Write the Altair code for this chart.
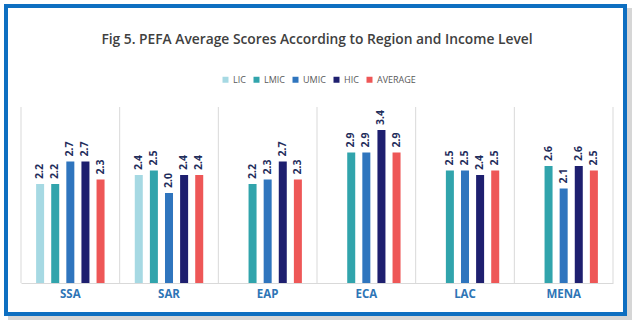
import altair as alt
import pandas as pd

regions = ["SSA", "SAR", "EAP", "ECA", "LAC", "MENA"]
levels = ["LIC", "LMIC", "UMIC", "HIC", "AVERAGE"]
lic = [2.2, 2.4, None, None, None, None]
lmic = [2.2, 2.5, 2.2, 2.9, 2.5, 2.6]
umic = [2.7, 2.0, 2.3, 2.9, 2.5, 2.1]
hic = [2.7, 2.4, 2.7, 3.4, 2.4, 2.6]
average = [2.3, 2.4, 2.3, 2.9, 2.5, 2.5]
colors = ["#A6D9E3", "#31A4AC", "#2F75BE", "#1E1F6F", "#EE5757"]
title_text = "Fig 5. PEFA Average Scores According to Region and Income Level"

rows = []
for lvl, vals in zip(levels, [lic, lmic, umic, hic, average]):
    for reg, v in zip(regions, vals):
        if v is not None:
            rows.append({"region": reg, "level": lvl, "score": v})
df = pd.DataFrame(rows)

W, H = 592, 180

xenc = alt.X("region:N", sort=regions,
             scale=alt.Scale(paddingInner=0, paddingOuter=0),
             axis=alt.Axis(title=None, ticks=False, domainColor="#D9D9D9", zindex=1,
                           labelPadding=11, labelFontSize=11.5, labelFontWeight="bold",
                           labelColor="#2E75B6", labelFont="Open Sans", labelAngle=0,
                           labelAlign="center", bandPosition=0.5))
xoff = alt.XOffset("level:N", sort=levels,
                   scale=alt.Scale(domain=levels, paddingInner=0.47, paddingOuter=1))
yenc = alt.Y("score:Q", scale=alt.Scale(domain=[0, 4]), axis=None)

one = alt.Data(values=[{"t": title_text}])

shadow = alt.Chart(one).mark_rect(fill="#C4C4C4", opacity=0.7).encode(
    x=alt.value(-13), x2=alt.value(611), y=alt.value(-95), y2=alt.value(217))
frame = alt.Chart(one).mark_rect(fill="white", stroke="#0E6FC1", strokeWidth=4).encode(
    x=alt.value(-15), x2=alt.value(604), y=alt.value(-97), y2=alt.value(211))

title = alt.Chart(one).mark_text(font="Open Sans", fontSize=13.8, fontWeight=600,
                                 color="#404040", baseline="middle", align="center").encode(
    text="t:N", x=alt.value(W / 2), y=alt.value(-63))

sep_df = pd.DataFrame({"region": regions})
seps = alt.Chart(sep_df).mark_rule(color="#D9D9D9", strokeWidth=1).encode(
    x=alt.X("region:N", sort=regions, bandPosition=0),
    y=alt.value(4), y2=alt.value(H))
last = alt.Chart(pd.DataFrame({"region": [regions[-1]]})).mark_rule(
    color="#D9D9D9", strokeWidth=1).encode(
    x=alt.X("region:N", sort=regions, bandPosition=1),
    y=alt.value(4), y2=alt.value(H))

bars = alt.Chart(df).mark_bar().encode(
    x=xenc, xOffset=xoff, y=yenc,
    color=alt.Color("level:N", sort=levels,
                    scale=alt.Scale(domain=levels, range=colors),
                    legend=alt.Legend(title=None, orient="none", direction="horizontal",
                                      legendX=200, legendY=-28, symbolType="square",
                                      symbolSize=36, symbolStrokeWidth=0,
                                      labelFontSize=9, labelColor="#595959",
                                      labelFont="Open Sans", columnPadding=6,
                                      labelOffset=3)))

labels = alt.Chart(df).mark_text(angle=270, align="left", baseline="middle", dx=5,
                                 font="Open Sans", fontSize=10.5, fontWeight="bold",
                                 color="#1F2D5C").encode(
    x=xenc, xOffset=xoff, y=yenc, text=alt.Text("score:Q", format=".1f"))

chart = alt.layer(shadow, frame, title, seps, last, bars, labels).properties(
    width=W, height=H,
    padding={"left": 21, "top": 103, "right": 25, "bottom": 46},
    autosize=alt.AutoSizeParams(type="none"),
    background="white",
).configure_view(strokeWidth=0)

chart.save("out.html", embed_options={"renderer": "svg", "actions": False})
